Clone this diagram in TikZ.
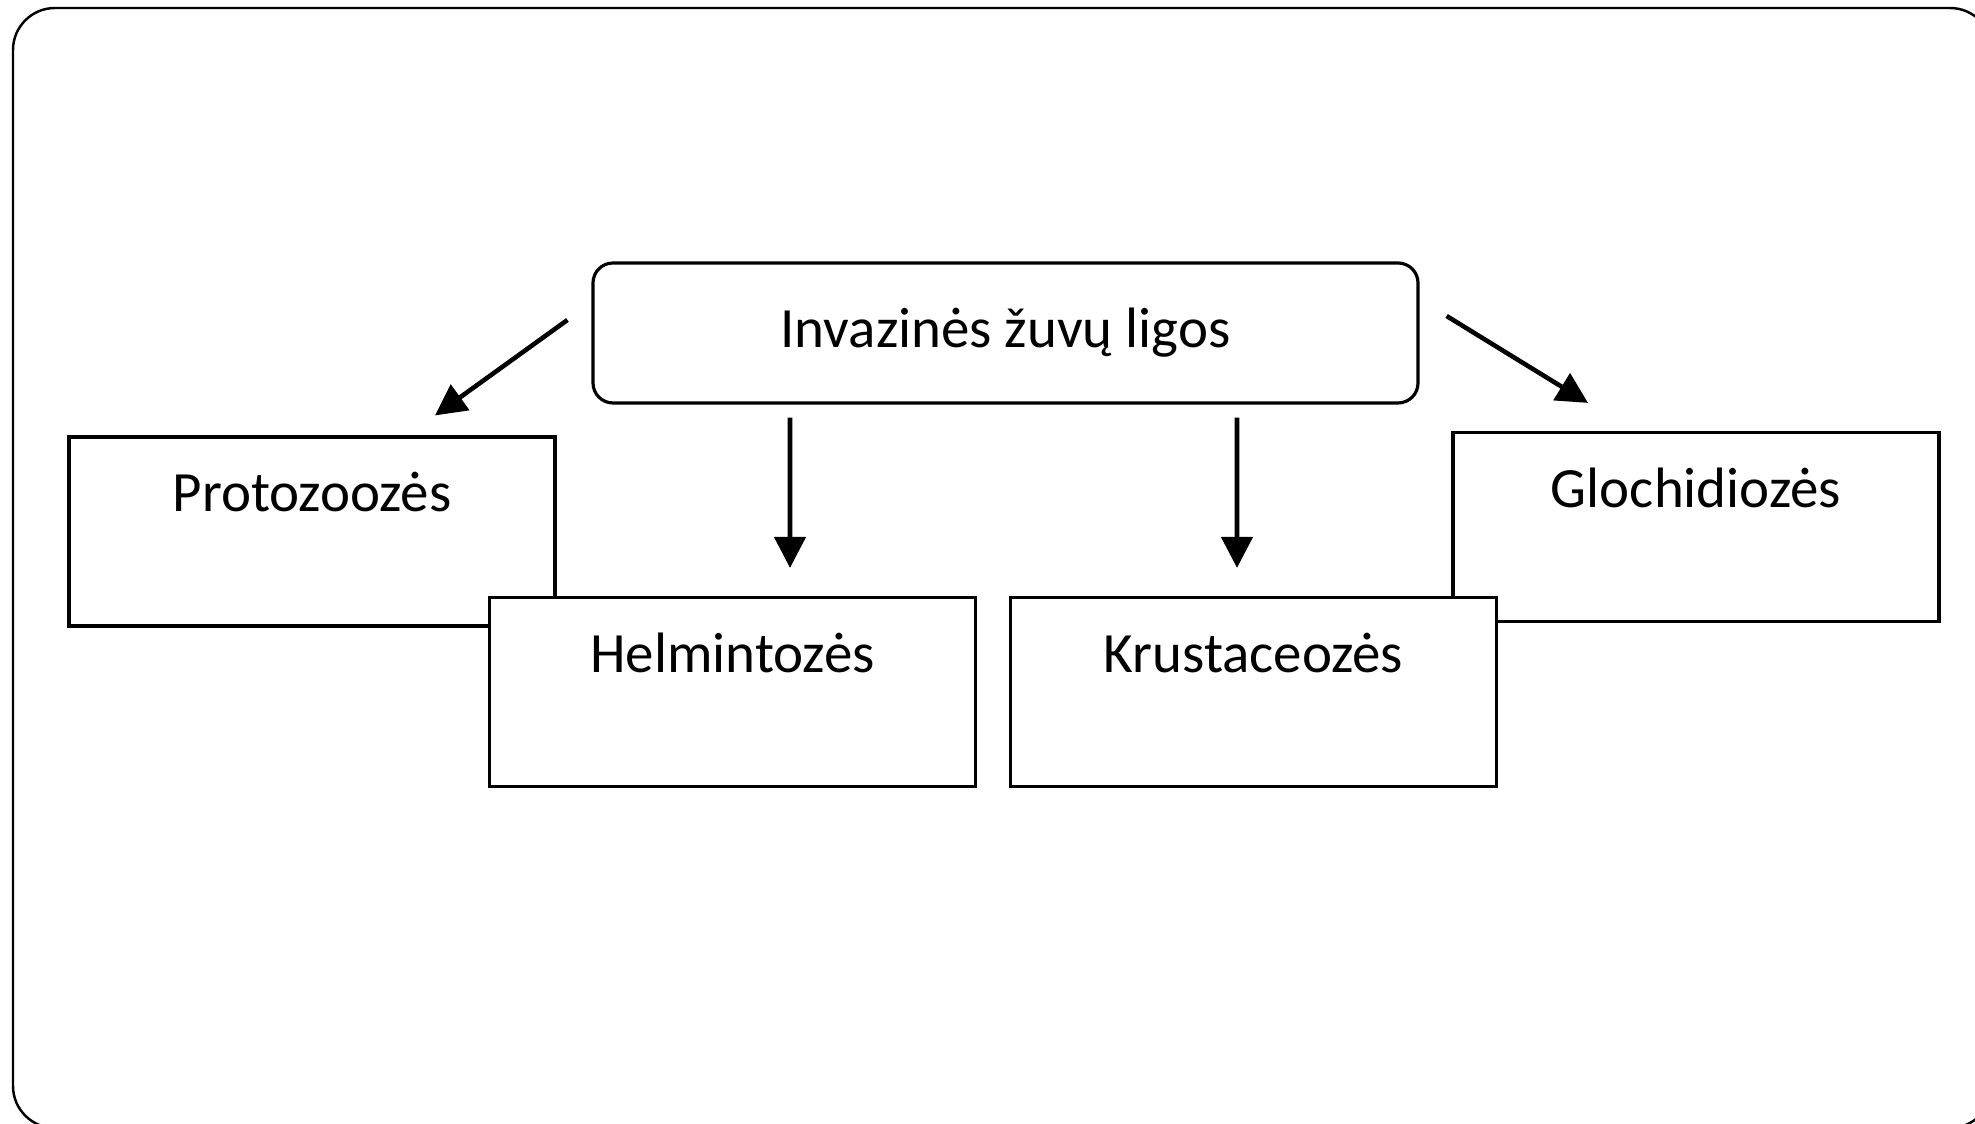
\documentclass[tikz,border=0pt]{standalone}
\usepackage{fontspec}
\setmainfont{Carlito}
\usetikzlibrary{arrows.meta}

\tikzset{
  diseasebox/.style={draw, line width=0.9pt, fill=white, minimum width=4.86cm,
    inner ysep=0pt, text height=0.75cm, text depth=1.14cm,
    font=\fontsize{16.2}{19}\selectfont},
  rootbox/.style={draw, line width=0.9pt, rounded corners=0.2cm,
    minimum width=8.25cm, minimum height=1.4cm,
    font=\fontsize{16.2}{19}\selectfont},
  arr/.style={line width=1.3pt, -{Triangle[length=3.1mm,width=3.1mm]}}
}

\begin{document}
\begin{tikzpicture}

\useasboundingbox (0,0) rectangle (19.75,11.23);
\clip (0,0) rectangle (19.75,11.23);

% The slide frame
\draw[line width=0.7pt, rounded corners=0.42cm] (0.13,-0.05) rectangle (19.92,11.15);

% The main group
\node[rootbox] (top) at (10.055,7.9) {Invazinės žuvų ligos};

% The back row of groups
\node[diseasebox] (proto) at (3.12,5.915) {Protozoozės};
\node[diseasebox] (gloch) at (16.96,5.96) {Glochidiozės};

% The front row, drawn over the back row
\node[diseasebox] (helm) at (7.325,4.31) {Helmintozės};
\node[diseasebox] (krust) at (12.535,4.31) {Krustaceozės};

% Arrows from the main group
\draw[arr] ([shift={(-0.24,0.13)}]top.west) -- ([shift={(1.23,0.2)}]proto.north);
\draw[arr] ([shift={(-2.155,-0.13)}]top.south) -- ([shift={(0.575,0.28)}]helm.north);
\draw[arr] ([shift={(2.315,-0.13)}]top.south) -- ([shift={(-0.165,0.28)}]krust.north);
\draw[arr] ([shift={(0.27,0.17)}]top.east) -- ([shift={(-1.08,0.28)}]gloch.north);

\end{tikzpicture}
\end{document}
